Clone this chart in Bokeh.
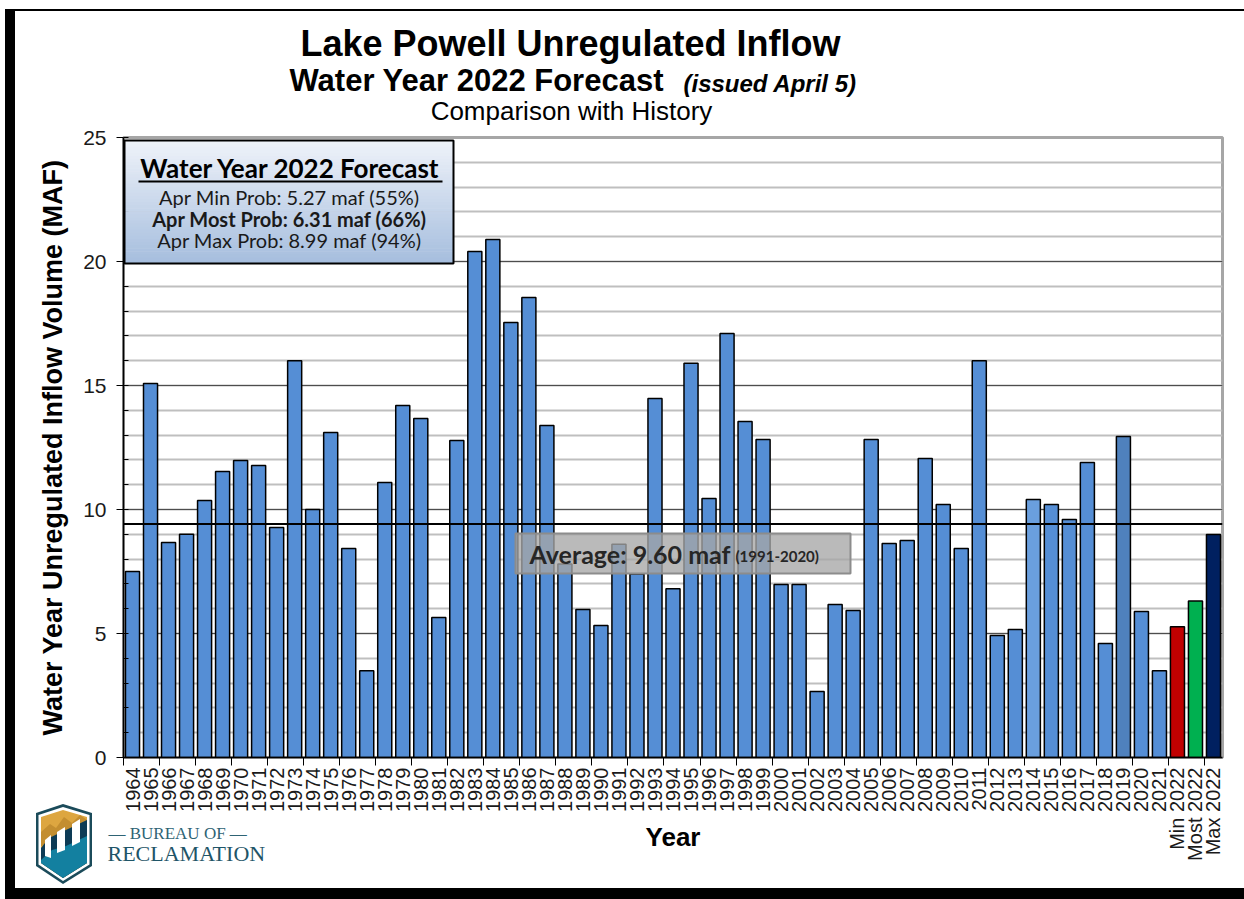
import math
from urllib.parse import quote
from bokeh.plotting import figure
from bokeh.models import (Range1d, LinearAxis, FixedTicker, SingleIntervalTicker, Span, Label,
                          BoxAnnotation)
from bokeh.embed import file_html
from bokeh.resources import INLINE

# ---------------- data ----------------
years = [str(y) for y in range(1964, 2022)]
hist_values = [7.5, 15.08, 8.67, 9.0, 10.36, 11.53, 11.98, 11.77, 9.27, 16.0,
               10.0, 13.1, 8.43, 3.5, 11.09, 14.19, 13.67, 5.65, 12.78, 20.4,
               20.89, 17.54, 18.55, 13.39, 7.8, 5.97, 5.32, 8.6, 7.4, 14.48,
               6.8, 15.9, 10.44, 17.1, 13.55, 12.82, 6.98, 6.98, 2.66, 6.17,
               5.93, 12.82, 8.63, 8.75, 12.06, 10.2, 8.43, 16.0, 4.92, 5.16,
               10.4, 10.2, 9.6, 11.9, 4.6, 12.94, 5.89, 3.5]
forecast_cats = ["Min 2022", "Most 2022", "Max 2022"]
forecast_values = [5.27, 6.31, 8.99]
avg_value = 9.60
avg_line_level = 9.42
legend_lines = ["Apr Min Prob: 5.27 maf (55%)",
                "Apr Most Prob: 6.31 maf (66%)",
                "Apr Max Prob: 8.99 maf (94%)"]
y_ticks_interval = 5

cats = years + forecast_cats
values = hist_values + forecast_values
ncat = len(cats)
xpos = [i + 0.5 for i in range(ncat)]   # category centres on a 0..N axis

special_colors = {"2014": "#6A9FDE", "2019": "#4F81BD",
                  "Min 2022": "#C00000", "Most 2022": "#00B050", "Max 2022": "#002060"}
colors = [special_colors.get(c, "#558ED5") for c in cats]

# ---------------- decorative page frame + logo shield (CSS background) ----------------
deco_svg = (
    "<svg xmlns='http://www.w3.org/2000/svg' width='1244' height='899'>"
    "<rect x='5' y='9' width='10' height='890' fill='#000'/>"
    "<rect x='5' y='9' width='1239' height='2' fill='#000'/>"
    "<rect x='5' y='888' width='1239' height='11' fill='#000'/>"
    "<polygon points='36,813 63,804 92,813 92,866 63,884 36,866' fill='#1B4B5A'/>"
    "<polygon points='38.5,815 63,807 89.5,815 89.5,864.5 63,881 38.5,864.5' fill='#fff'/>"
    "<polygon points='41,817 63,810 87,817 87,863 63,878 41,863' fill='#DDA640'/>"
    "<polygon points='41,832 50,824 56,828 64,817 72,823 80,815 87,820 87,836 41,846' fill='#C38E30'/>"
    "<polygon points='41,848 49,838 87,820 87,863 63,878 41,863' fill='#0D3B55'/>"
    "<polygon points='41,860 52,850 66,846 87,836 87,863 63,878 41,863' fill='#1380A0'/>"
    "<polygon points='45,840 51,835 51,858 45,856' fill='#fff'/>"
    "<polygon points='57,832 65,827 65,850 57,853' fill='#fff'/>"
    "<polygon points='72,824 80,819 80,842 72,846' fill='#fff'/>"
    "</svg>")
deco_css = 'url("data:image/svg+xml;utf8,%s") no-repeat 0 0 / 1244px 899px, #ffffff' % quote(deco_svg)

# ---------------- figure ----------------
W, H = 1244, 899
FL, FR, FT, FB = 123, 1222, 137, 757   # frame edges in page pixels

p = figure(width=W, height=H, x_range=Range1d(0, ncat), y_range=Range1d(0, 25),
           output_backend="svg", toolbar_location=None, x_axis_location=None,
           min_border_left=FL, min_border_right=W - FR, min_border_top=FT,
           min_border_bottom=H - FB, background_fill_color="white",
           border_fill_color="white", border_fill_alpha=0.0)
p.styles = {"background": deco_css}
p.extra_x_ranges = {"px": Range1d(FL, FR)}
p.extra_y_ranges = {"py": Range1d(FB, FT)}

p.outline_line_color = "#A6A6A6"
p.outline_line_width = 3

# y axis
yt = SingleIntervalTicker(interval=y_ticks_interval, num_minor_ticks=5)
ya = p.yaxis[0]
ya.ticker = yt
ya.axis_label = "Water Year Unregulated Inflow Volume (MAF)"
ya.axis_label_text_font = "Liberation Sans"
ya.axis_label_text_font_style = "bold"
ya.axis_label_text_font_size = "27px"
ya.axis_label_text_color = "black"
ya.axis_label_standoff = 12
ya.major_label_text_font = "Liberation Sans"
ya.major_label_text_font_size = "21px"
ya.major_label_text_color = "#1a1a1a"
ya.major_label_standoff = 10
ya.major_tick_out = 7
ya.major_tick_in = 0
ya.minor_tick_in = 5
ya.minor_tick_out = 0
ya.axis_line_width = 1.5
ya.axis_line_color = "black"

p.ygrid.ticker = yt
p.ygrid.grid_line_color = "#4d4d4d"
p.ygrid.grid_line_width = 1
p.ygrid.minor_grid_line_color = "#BFBFBF"
p.ygrid.minor_grid_line_width = 2
p.xgrid.visible = False

# x axis: labels at category centres, tick marks between every second category
tick_vals = list(range(0, ncat, 2))
cat_axis = LinearAxis(ticker=FixedTicker(ticks=xpos, minor_ticks=tick_vals),
                      major_label_overrides={x: c for x, c in zip(xpos, cats)},
                      major_tick_line_color=None, major_tick_out=8, major_tick_in=0,
                      minor_tick_line_color="black", minor_tick_out=8, minor_tick_in=0,
                      axis_line_color="black", axis_line_width=1.5,
                      major_label_orientation=math.pi / 2,
                      major_label_text_font="Liberation Sans",
                      major_label_text_font_size="20px",
                      major_label_text_color="#1a1a1a",
                      major_label_standoff=2,
                      axis_label="Year", axis_label_standoff=-42,
                      axis_label_text_font="Liberation Sans",
                      axis_label_text_font_style="bold",
                      axis_label_text_font_size="26px",
                      axis_label_text_color="black")
p.add_layout(cat_axis, "below")

# bars
p.vbar(x=xpos, top=values, width=0.78, fill_color=colors, line_color="black", line_width=1.5)

# average line
p.add_layout(Span(location=avg_line_level, dimension="width", line_color="black", line_width=2))


def lab(x, y, text, size, font="Liberation Sans", style="normal", color="black",
        align="left", baseline="middle", place=None):
    obj = Label(x=x, y=y, x_range_name="px", y_range_name="py", text=text,
                text_font=font, text_font_size=size, text_font_style=style,
                text_color=color, text_align=align, text_baseline=baseline)
    if place:
        p.add_layout(obj, place)
    else:
        p.add_layout(obj)


def box(l, r, t, b, fill, alpha=1.0, line=None, lw=1):
    p.add_layout(BoxAnnotation(left=l, right=r, top=t, bottom=b, x_range_name="px",
                               y_range_name="py", fill_color=fill, fill_alpha=alpha,
                               line_color=line, line_width=lw,
                               line_alpha=1.0 if line else 0))


# legend box with vertical gradient
lx0, lx1, ly0, ly1 = 124, 453, 140, 263
n = 40
c0, c1 = (238, 242, 249), (166, 190, 222)
for i in range(n):
    t = i / (n - 1)
    col = "#%02x%02x%02x" % tuple(int(round(a + (b - a) * t)) for a, b in zip(c0, c1))
    ya0 = ly0 + (ly1 - ly0) * i / n
    ya1 = ly0 + (ly1 - ly0) * (i + 1) / n + 0.6
    box(lx0, lx1, ya0, ya1, col)
box(lx0, lx1, ly0, ly1, None, 0.0, "black", 2)
lab(290, 167, "Water Year 2022 Forecast", "26px", font="Lato", style="bold", align="center")
box(138, 442, 180, 182, "black")
for k, (txt, yy) in enumerate(zip(legend_lines, [196, 218, 239])):
    lab(289, yy, txt, "20px", font="Lato", style="bold" if k == 1 else "normal",
        color="#1a1a1a", align="center")

# average label
box(515, 850, 533, 573, "#A6A6A6", 0.78, "#8C8C8C", 2)
lab(529, 553, "Average: %.2f maf" % avg_value, "25px", font="Lato", style="bold",
    color="#262626")
lab(735, 555, "(1991-2020)", "15px", font="Lato", style="bold", color="#262626")

# titles (side panel -> not clipped to the plot frame)
lab(570, 43, "Lake Powell Unregulated Inflow", "36px", style="bold", align="center", place="above")
lab(289, 80, "Water Year 2022 Forecast", "31px", style="bold", place="above")
lab(683, 83, "(issued April 5)", "24px", style="bold italic", place="above")
lab(571, 110, "Comparison with History", "26px", align="center", place="above")

# logo text
lab(108, 833, "\u2014 BUREAU OF \u2014", "17px", font="Liberation Serif", color="#2E6374",
    place="below")
lab(107, 853, "RECLAMATION", "22px", font="Liberation Serif", color="#1F5568",
    place="below")

open("out.html", "w").write(file_html(p, INLINE))
